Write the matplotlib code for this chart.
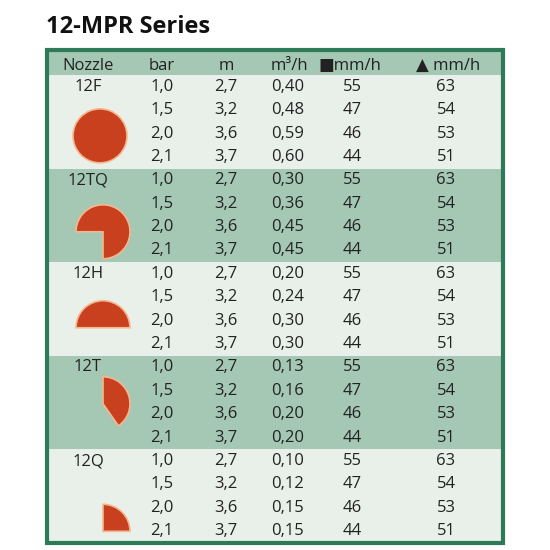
import matplotlib
matplotlib.use("Agg")
from matplotlib import pyplot as plt
from matplotlib.patches import Rectangle, Wedge

nozzles = ["12F", "12TQ", "12H", "12T", "12Q"]
arcs = [(0, 360), (-90, 180), (0, 180), (-55, 90), (0, 90)]
bar = ["1,0", "1,5", "2,0", "2,1"]
radius_m = ["2,7", "3,2", "3,6", "3,7"]
flow = [["0,40", "0,48", "0,59", "0,60"],
        ["0,30", "0,36", "0,45", "0,45"],
        ["0,20", "0,24", "0,30", "0,30"],
        ["0,13", "0,16", "0,20", "0,20"],
        ["0,10", "0,12", "0,15", "0,15"]]
sq_rate = ["55", "47", "46", "44"]
tri_rate = ["63", "54", "53", "51"]
headers = ["Nozzle", "bar", "m", "m³/h", "■mm/h", "▲ mm/h"]

plt.rcParams['font.family'] = ['Open Sans', 'DejaVu Sans']

fig = plt.figure(figsize=(5.5, 5.5), dpi=100)
ax = fig.add_axes([0, 0, 1, 1])
ax.set_xlim(0, 550)
ax.set_ylim(550, 0)
ax.axis('off')

light = "#e9f0ea"
green = "#a4c8b3"
red = "#c8401e"

ax.text(46, 27, "12-MPR Series", fontsize=17, fontweight='bold', va='center', color="#111111")

top, head_h, row_h = 50, 25, 23.4
ax.add_patch(Rectangle((47, top), 456, head_h, color=green, lw=0))
hx = [88, 162, 226, 289, 350, 448]
for x, h in zip(hx, headers):
    ax.text(x, top + head_h / 2 + 3, h, fontsize=12, ha='center', va='center', color="#222222")

# icon centres, in rows from the top of each group
icon_rows = [2.6, 2.7, 2.8, 2.05, 3.5]

for g, name in enumerate(nozzles):
    y0 = top + head_h + g * 4 * row_h
    ax.add_patch(Rectangle((47, y0), 456, 4 * row_h, color=light if g % 2 == 0 else green, lw=0))
    ax.text(88, y0 + row_h / 2, name, fontsize=12, ha='center', va='center', color="#222222")
    for r in range(4):
        yc = y0 + row_h * (r + 0.5)
        ax.text(162, yc, bar[r], fontsize=12, ha='center', va='center', color="#222222")
        ax.text(226, yc, radius_m[r], fontsize=12, ha='center', va='center', color="#222222")
        ax.text(288, yc, flow[g][r], fontsize=12, ha='center', va='center', color="#222222")
        ax.text(352, yc, sq_rate[r], fontsize=12, ha='center', va='center', color="#222222")
        ax.text(446, yc, tri_rate[r], fontsize=12, ha='center', va='center', color="#222222")
    t1, t2 = arcs[g]
    cx = 100 if g == 0 else 103
    c = (cx, y0 + icon_rows[g] * row_h)
    # y axis inverted: flip angles
    ax.add_patch(Wedge(c, 27, -t2, -t1, facecolor=red, edgecolor="#f4b890", lw=1.2))

bottom = top + head_h + 20 * row_h
ax.add_patch(Rectangle((47, top), 456, bottom - top, fill=False, edgecolor="#2e7a58", lw=3))

plt.savefig("out.png", dpi=100, facecolor="white")
plt.close()
